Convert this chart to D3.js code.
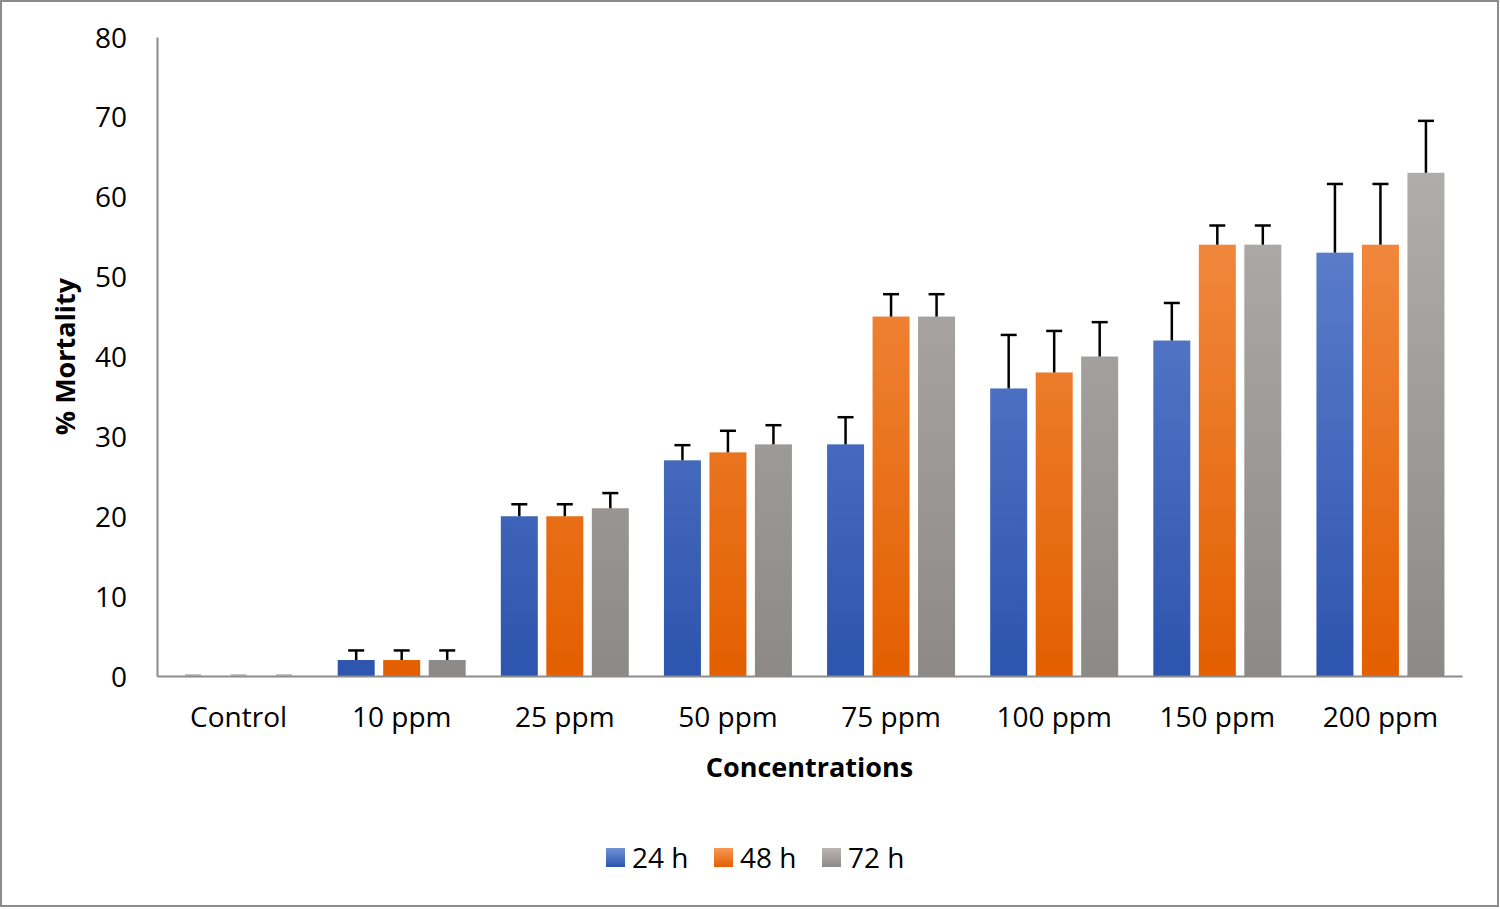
<!DOCTYPE html>
<html><head><meta charset="utf-8">
<script src="https://cdn.jsdelivr.net/npm/d3@7"></script>
<style>
html,body{margin:0;padding:0;background:#fff;}
svg{display:block;font-family:"Open Sans","Liberation Sans",sans-serif;}
</style></head>
<body>
<svg id="c" width="1500" height="909"></svg>
<script>
const categories = ["Control","10 ppm","25 ppm","50 ppm","75 ppm","100 ppm","150 ppm","200 ppm"];
const seriesNames = ["24 h","48 h","72 h"];
const values24 = [0,2,20,27,29,36,42,53];
const values48 = [0,2,20,28,45,38,54,54];
const values72 = [0,2,21,29,45,40,54,63];
const errors24 = [0,1.2,1.5,1.9,3.4,6.7,4.7,8.6];
const errors48 = [0,1.2,1.5,2.7,2.8,5.2,2.4,7.6];
const errors72 = [0,1.2,1.9,2.4,2.8,4.3,2.4,6.5];
const yTicks = [0,10,20,30,40,50,60,70,80];

const series = [
  {name: seriesNames[0], vals: values24, errs: errors24, top:"#7090d6", bot:"#2d54ae", id:"g0"},
  {name: seriesNames[1], vals: values48, errs: errors48, top:"#f79a58", bot:"#e35f00", id:"g1"},
  {name: seriesNames[2], vals: values72, errs: errors72, top:"#b9b6b4", bot:"#8d8987", id:"g2"}
];

const svg = d3.select("#c");
const W = 1500, H = 909;
const m = {left:157, right:1462, top:37, bottom:676};
const FONT = '"Open Sans","Liberation Sans",sans-serif';

svg.append("rect").attr("x",1).attr("y",1).attr("width",W-3).attr("height",H-4)
  .attr("fill","#fff").attr("stroke","#8c8c8c").attr("stroke-width",2);

const x0 = d3.scaleBand().domain(categories).range([m.left, m.right]).paddingInner(0).paddingOuter(0);
const y = d3.scaleLinear().domain([0,80]).range([m.bottom, m.top]);
const x1 = d3.scaleBand().domain(seriesNames).range([0, x0.bandwidth()]).paddingInner(0.187).paddingOuter(0.386);

const defs = svg.append("defs");
series.forEach(s=>{
  const g = defs.append("linearGradient").attr("id",s.id).attr("gradientUnits","userSpaceOnUse")
    .attr("x1",0).attr("x2",0).attr("y1",y(80)).attr("y2",y(0));
  g.append("stop").attr("offset","0%").attr("stop-color",s.top);
  g.append("stop").attr("offset","100%").attr("stop-color",s.bot);
});

// y axis
const yAxis = d3.axisLeft(y).tickValues(yTicks).tickSize(0).tickPadding(30);
const ya = svg.append("g").attr("transform",`translate(${m.left},0)`).call(yAxis)
  .attr("font-family",FONT);
ya.select(".domain").attr("stroke","#8c8c8c").attr("stroke-width",2);
ya.selectAll("text").attr("font-size",28).attr("fill","#000").attr("dy","0.36em");

// bars
series.forEach(s=>{
  const g = svg.append("g");
  g.selectAll("rect").data(categories).enter().append("rect")
    .attr("x",c=>x0(c)+x1(s.name))
    .attr("width",x1.bandwidth())
    .attr("y",(c,i)=>y(s.vals[i]))
    .attr("height",(c,i)=>y(0)-y(s.vals[i]))
    .attr("fill",`url(#${s.id})`);
  // error bars
  const e = svg.append("g").attr("stroke","#000").attr("stroke-width",2.5);
  categories.forEach((c,i)=>{
    const cx = x0(c)+x1(s.name)+x1.bandwidth()/2;
    const yt = y(s.vals[i]+s.errs[i]);
    if (s.errs[i] > 0) {
      e.append("line").attr("x1",cx).attr("x2",cx).attr("y1",y(s.vals[i])).attr("y2",yt);
      e.append("line").attr("x1",cx-8).attr("x2",cx+8).attr("y1",yt).attr("y2",yt);
    } else {
      e.append("line").attr("x1",cx-8).attr("x2",cx+8).attr("y1",yt-1).attr("y2",yt-1).attr("stroke","#b0b0b0").attr("stroke-width",1.5);
    }
  });
});

// x axis
const xAxis = d3.axisBottom(x0).tickSize(0).tickPadding(31);
const xa = svg.append("g").attr("transform",`translate(0,${m.bottom})`).call(xAxis)
  .attr("font-family",FONT);
xa.select(".domain").attr("stroke","#8c8c8c").attr("stroke-width",2);
xa.selectAll("text").attr("font-size",28).attr("fill","#000");

// axis titles
svg.append("text").attr("x",(m.left+m.right)/2).attr("y",777).attr("text-anchor","middle")
  .attr("font-size",27).attr("font-weight","bold").text("Concentrations");
svg.append("text").attr("transform",`translate(75,${(m.top+m.bottom)/2}) rotate(-90)`)
  .attr("text-anchor","middle").attr("font-size",27).attr("font-weight","bold").text("% Mortality");

// legend
const legX = [606, 714, 822];
series.forEach((s,i)=>{
  const g = defs.append("linearGradient").attr("id",s.id+"l").attr("x1",0).attr("x2",0).attr("y1",0).attr("y2",1);
  g.append("stop").attr("offset","0%").attr("stop-color",s.top);
  g.append("stop").attr("offset","100%").attr("stop-color",s.bot);
  const lg = svg.append("g").attr("transform",`translate(${legX[i]},848)`);
  lg.append("rect").attr("x",0).attr("y",0).attr("width",19).attr("height",19).attr("fill",`url(#${s.id}l)`);
  lg.append("text").attr("x",26).attr("y",20).attr("font-size",28).text(s.name);
});
</script>
</body></html>
